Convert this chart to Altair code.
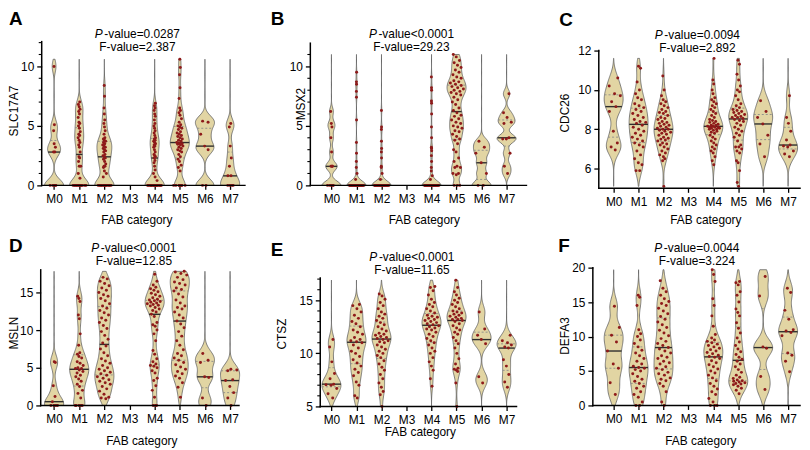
import json
import altair as alt
import pandas as pd

FONT = "Liberation Sans"
FILL = "#e2d5a3"
OUTLINE = "#626262"
DOT = "#8e1a1a"

CATEGORIES = ["M0", "M1", "M2", "M3", "M4", "M5", "M6", "M7"]

# ---------------- data ----------------
slc17a7 = {
    "M0": [10.0, 5.1, 4.6, 3.5, 3.2, 2.8, 2.8, 0, 0, 0, 0, 0],
    "M1": [7.0, 6.8, 6.6, 6.4, 6.2, 6.0, 5.7, 5.3, 5.2, 5.0, 4.8, 4.5, 4.3, 4.2, 4.0, 3.8, 3.6, 3.4, 3.2, 2.8,
           2.4, 2.3, 2.0, 1.6, 1.6, 1.0, 0.6, 0, 0, 0, 0, 0, 0, 0, 0, 0, 0, 0, 0, 0],
    "M2": [8.4, 7.5, 6.5, 6.0, 5.5, 5.2, 4.9, 4.6, 4.3, 4.0, 3.9, 3.8, 3.7, 3.6, 3.5, 3.4, 3.3, 3.2, 3.1, 3.0,
           2.9, 2.8, 2.6, 2.5, 2.4, 2.3, 2.2, 2.0, 1.8, 1.6, 1.6, 1.5, 1.2, 1.0, 0.7,
           0, 0, 0, 0, 0, 0, 0, 0, 0, 0, 0, 0, 0, 0],
    "M3": [],
    "M4": [6.9, 6.7, 6.5, 6.3, 6.0, 5.8, 5.5, 5.2, 5.0, 4.8, 4.6, 4.4, 4.2, 4.0, 3.9, 3.8, 3.7, 3.6, 3.5, 3.4,
           3.3, 3.2, 3.0, 2.8, 2.6, 2.5, 2.4, 2.3, 2.1, 1.9, 1.6, 1.3, 1.0, 0.7, 0.4,
           0, 0, 0, 0, 0, 0, 0, 0, 0, 0, 0, 0, 0, 0, 0, 0, 0, 0, 0, 0],
    "M5": [10.6, 9.9, 9.3, 8.2, 7.3, 6.5, 6.3, 6.1, 5.9, 5.6, 5.3, 5.1, 5.0, 4.9, 4.8, 4.7, 4.5, 4.4, 4.3, 4.2,
           4.1, 4.0, 3.9, 3.8, 3.7, 3.6, 3.55, 3.5, 3.45, 3.4, 3.3, 3.2, 3.1, 3.0, 2.9, 2.8, 2.6, 2.4, 2.2,
           2.0, 1.7, 1.5, 1.2, 0, 0, 0, 0, 0, 0, 0, 0],
    "M6": [5.4, 5.3, 4.3, 3.3, 3.0, 0, 0],
    "M7": [5.2, 4.9, 3.3, 2.3, 1.6, 0.8, 0.8, 0, 0, 0, 0],
}

msx2 = {
    "M0": [6.2, 5.2, 4.9, 4.0, 2.8, 1.6, 1.6, 1.6, 0, 0, 0, 0, 0],
    "M1": [9.5, 8.7, 8.5, 7.9, 7.4, 5.5, 3.6, 2.7, 2.0, 1.5, 1.0, 0.5,
           0, 0, 0, 0, 0, 0, 0, 0, 0, 0, 0, 0, 0, 0, 0, 0, 0, 0, 0, 0, 0, 0, 0, 0, 0, 0, 0, 0, 0, 0],
    "M2": [6.3, 4.9, 4.7, 3.7, 3.1, 2.8, 2.3, 1.6, 1.5, 1.0, 0.5,
           0, 0, 0, 0, 0, 0, 0, 0, 0, 0, 0, 0, 0, 0, 0, 0, 0, 0, 0, 0, 0, 0, 0, 0, 0, 0, 0, 0, 0, 0],
    "M3": [],
    "M4": [9.1, 8.2, 8.0, 7.1, 6.9, 6.0, 4.9, 4.0, 3.2, 3.1, 2.9, 2.5, 2.0, 1.5, 1.2, 0.8, 0.5,
           0, 0, 0, 0, 0, 0, 0, 0, 0, 0, 0, 0, 0, 0, 0, 0, 0, 0, 0, 0, 0, 0, 0, 0, 0, 0, 0, 0, 0, 0],
    "M5": [11.0, 10.8, 10.5, 10.3, 10.1, 9.9, 9.7, 9.5, 9.3, 9.1, 9.0, 8.8, 8.7, 8.6, 8.5, 8.4, 8.3, 8.2,
           8.1, 8.0, 7.9, 7.8, 7.7, 7.6, 7.4, 7.2, 7.0, 6.8, 6.5, 6.3, 6.1, 5.9, 5.8, 5.6, 5.5, 5.3, 5.2,
           5.0, 4.9, 4.8, 4.6, 4.5, 4.3, 4.1, 3.9, 3.8, 3.5, 3.0, 2.8, 2.3, 2.0, 1.6, 1.5, 1.5, 1.0, 1.0,
           0.9, 0, 0, 0],
    "M6": [3.7, 3.2, 2.7, 1.9, 1.0, 0, 0],
    "M7": [7.7, 6.1, 5.7, 5.3, 5.2, 4.0, 3.9, 3.9, 2.7, 1.6, 1.0],
}

cdc26 = {
    "M0": [10.6, 10.2, 9.8, 9.7, 9.4, 9.15, 8.9, 7.9, 7.3, 7.1, 6.95],
    "M1": [11.2, 11.1, 10.4, 10.0, 9.8, 9.6, 9.5, 9.3, 9.2, 9.1, 9.0, 8.9, 8.8, 8.7, 8.6, 8.5, 8.4, 8.35,
           8.3, 8.2, 8.1, 8.0, 7.9, 7.8, 7.7, 7.6, 7.5, 7.4, 7.3, 7.2, 7.1, 6.9, 6.7, 6.5, 6.3, 6.2, 5.9, 5.9],
    "M2": [10.7, 10.0, 9.7, 9.5, 9.4, 9.3, 9.2, 9.1, 9.0, 8.9, 8.85, 8.8, 8.7, 8.6, 8.55, 8.5, 8.4, 8.35,
           8.3, 8.25, 8.2, 8.15, 8.1, 8.05, 8.0, 8.0, 7.95, 7.9, 7.85, 7.8, 7.75, 7.7, 7.6, 7.55, 7.5, 7.45,
           7.4, 7.3, 7.25, 7.2, 7.1, 7.0, 6.9, 6.8, 6.7, 6.6, 6.5, 6.4, 5.1],
    "M3": [],
    "M4": [11.6, 10.5, 10.3, 10.0, 9.8, 9.6, 9.5, 9.4, 9.3, 9.2, 9.1, 9.0, 8.9, 8.8, 8.7, 8.6, 8.5, 8.45,
           8.4, 8.35, 8.3, 8.25, 8.2, 8.2, 8.15, 8.15, 8.1, 8.1, 8.1, 8.05, 8.05, 8.0, 8.0, 7.95, 7.9, 7.85,
           7.8, 7.7, 7.6, 7.5, 7.4, 7.3, 7.2, 7.1, 7.0, 6.9, 6.8, 6.6, 6.4, 6.2],
    "M5": [11.5, 11.3, 10.8, 10.5, 10.2, 10.0, 9.9, 9.7, 9.5, 9.3, 9.2, 9.1, 9.0, 8.95, 8.9, 8.85, 8.8,
           8.75, 8.7, 8.65, 8.6, 8.6, 8.55, 8.5, 8.45, 8.4, 8.3, 8.2, 8.1, 8.0, 7.9, 7.8, 7.7, 7.6, 7.4, 7.2,
           7.1, 7.1, 7.0, 6.9, 6.8, 6.4, 6.3, 5.9, 5.3, 5.1],
    "M6": [9.45, 8.9, 8.6, 8.27, 7.7, 7.25, 6.6],
    "M7": [9.7, 8.6, 8.3, 7.9, 7.45, 7.2, 7.15, 7.1, 6.9, 6.75, 6.6],
}

msln = {
    "M0": [5.8, 5.7, 2.6, 1.2, 0.5, 0, 0, 0, 0],
    "M1": [14.5, 14.2, 13.8, 12.0, 11.5, 9.5, 8.0, 7.0, 6.8, 6.5, 6.3, 5.8, 5.6, 5.3, 5.0, 4.9, 4.9, 4.7,
           4.5, 4.3, 4.0, 3.8, 3.5, 3.2, 2.8, 2.5, 2.0, 1.6, 1.0, 0, 0, 0, 0, 0],
    "M2": [17.0, 16.8, 16.5, 16.2, 15.9, 15.6, 15.3, 15.0, 14.7, 14.5, 14.2, 13.9, 13.5, 13.2, 12.9, 12.6,
           12.3, 12.0, 11.6, 11.3, 11.0, 10.6, 10.2, 9.8, 9.3, 8.8, 8.3, 7.9, 7.5, 7.0, 6.6, 6.2, 5.9, 5.6,
           5.3, 5.0, 4.8, 4.6, 4.4, 4.2, 4.0, 3.8, 3.6, 3.4, 3.2, 3.0, 2.8, 2.5, 2.2, 1.9, 1.5, 1.1, 1.0, 0.9],
    "M3": [],
    "M4": [17.4, 16.5, 16.0, 15.7, 15.5, 15.3, 15.1, 14.9, 14.7, 14.5, 14.3, 14.1, 14.0, 13.9, 13.8, 13.7,
           13.6, 13.5, 13.4, 13.3, 13.2, 13.0, 12.8, 12.6, 12.4, 12.1, 11.8, 11.0, 10.7, 10.5, 10.0, 9.5,
           8.6, 7.3, 6.8, 6.2, 5.8, 5.5, 5.3, 5.2, 5.0, 4.6, 4.3, 3.6, 3.3, 2.6, 2.0, 1.1, 0, 0, 0],
    "M5": [17.8, 17.7, 17.5, 17.3, 17.0, 16.7, 16.4, 16.2, 16.0, 15.6, 15.4, 15.2, 14.8, 14.4, 14.0, 13.6,
           13.2, 13.0, 12.8, 12.4, 12.0, 11.6, 11.2, 10.8, 10.3, 9.8, 9.2, 8.6, 8.0, 7.4, 6.9, 6.6, 6.3, 6.0,
           5.7, 5.4, 5.1, 4.8, 4.5, 4.2, 3.9, 3.6, 3.0, 2.4, 1.1],
    "M6": [6.9, 6.0, 5.7, 3.8, 3.7, 1.0, 0],
    "M7": [4.8, 4.7, 4.6, 3.4, 3.3, 2.5, 1.7, 1.0, 0],
}

ctsz = {
    "M0": [11.3, 10.6, 9.2, 8.1, 7.6, 7.1, 7.05, 7.0, 6.7, 6.2, 5.8],
    "M1": [14.6, 14.5, 14.2, 13.9, 13.6, 13.3, 13.0, 12.8, 12.5, 12.2, 12.0, 11.8, 11.5, 11.3, 11.2, 11.1,
           11.0, 10.8, 10.5, 10.2, 10.0, 9.7, 9.4, 9.1, 8.8, 8.5, 8.2, 7.9, 7.3, 7.0, 6.0, 5.8],
    "M2": [15.6, 15.4, 15.1, 14.8, 14.5, 14.2, 13.9, 13.7, 13.5, 13.3, 13.1, 12.9, 12.7, 12.5, 12.3, 12.1,
           11.9, 11.8, 11.7, 11.6, 11.5, 11.4, 11.3, 11.2, 11.1, 11.0, 10.8, 10.6, 10.4, 10.2, 10.0, 9.8,
           9.6, 9.3, 9.0, 8.7, 8.4, 8.0, 7.6, 7.2, 6.8, 6.4, 6.1, 5.0],
    "M3": [],
    "M4": [16.3, 16.2, 15.9, 15.5, 15.1, 14.8, 14.6, 14.4, 14.2, 14.0, 13.8, 13.6, 13.5, 13.4, 13.3, 13.2,
           13.1, 13.0, 12.9, 12.8, 12.7, 12.6, 12.5, 12.4, 12.3, 12.2, 12.0, 11.8, 11.6, 11.4, 11.2, 11.0,
           10.8, 10.5, 10.2, 10.0, 9.6, 9.2, 8.8, 8.4, 7.6, 6.9],
    "M5": [16.9, 16.2, 15.8, 15.5, 15.2, 15.0, 14.8, 14.6, 14.4, 14.2, 14.0, 13.9, 13.8, 13.7, 13.6, 13.5,
           13.4, 13.3, 13.2, 13.2, 13.1, 13.0, 12.8, 12.6, 12.4, 12.2, 12.0, 11.8, 11.5, 11.2, 10.9, 10.5,
           10.0, 9.5, 9.0, 8.6, 8.5, 8.4, 8.3, 7.2, 5.0],
    "M6": [13.9, 12.3, 11.7, 11.3, 10.9, 7.8, 7.2],
    "M7": [11.7, 11.2, 11.0, 10.8, 10.6, 10.5, 9.4, 8.8, 8.0, 7.3, 6.8],
}

defa3 = {
    "M0": [14.4, 11.3, 10.2, 9.2, 7.9, 6.0, 5.4, 3.3, 1.6],
    "M1": [16.0, 15.7, 14.5, 11.0, 10.4, 10.0, 9.5, 9.0, 8.5, 8.0, 7.6, 7.2, 6.8, 6.4, 6.0, 5.7, 5.5, 5.4,
           5.2, 5.0, 4.6, 4.2, 3.8, 3.5, 3.2, 2.8, 2.5, 2.0, 1.6, 1.2, 0.5, 0, 0],
    "M2": [18.1, 17.0, 16.5, 16.0, 15.5, 15.1, 14.8, 14.5, 14.1, 13.7, 13.3, 12.9, 12.5, 12.1, 11.7, 11.3,
           10.9, 10.5, 10.1, 9.7, 9.3, 9.0, 8.7, 8.4, 8.2, 7.9, 7.6, 7.2, 7.0, 6.8, 6.4, 6.2, 6.0, 5.6, 5.4,
           5.2, 4.8, 4.6, 4.4, 4.0, 3.8, 3.6, 3.2, 2.8, 2.0, 0.5, 0.0],
    "M3": [],
    "M4": [19.7, 19.0, 18.0, 15.5, 14.5, 13.0, 11.5, 10.3, 9.8, 9.5, 9.3, 9.1, 8.9, 8.7, 8.5, 8.3, 8.1, 7.9,
           7.7, 7.5, 7.3, 7.1, 7.0, 6.8, 6.5, 6.2, 5.9, 5.6, 5.3, 5.0, 4.7, 4.4, 4.0, 3.6, 3.2, 2.8, 2.4,
           2.0, 1.6, 1.0, 0.5, 0, 0, 0],
    "M5": [18.0, 17.8, 17.5, 16.5, 16.0, 15.0, 14.0, 13.5, 13.0, 12.0, 11.2, 10.5, 9.8, 9.2, 8.7, 8.2, 7.8,
           7.4, 7.0, 6.7, 6.4, 6.0, 5.6, 5.2, 4.8, 4.4, 4.1, 3.9, 3.7, 3.6, 3.5, 3.4, 3.3, 3.2, 3.1, 3.0,
           2.8, 2.5, 2.2, 1.7],
    "M6": [18.7, 15.9, 8.5, 8.3, 4.2, 2.3],
    "M7": [17.0, 16.4, 13.8, 12.5, 11.0, 10.8, 10.6, 10.1, 7.6, 7.3, 6.4, 4.9],
}

# ---------------- layout per panel (pixels are panel-relative) ----------------
XDOM1 = [-0.532, 7.59]
XDOM2 = [-0.844, 7.833]
XDOM3 = [-0.835, 7.478]

panels_cfg = [
    dict(letter="A", gene="SLC17A7", data=slc17a7, pop="=", pval="0.0287", fval="2.387", bw=0.5,
         w=206, h=145, xdom=XDOM1, ydom=[0, 12.08], yline=[0, 12.08], yticks=[0, 5, 10],
         minor=[1, 2, 3, 4, 6, 7, 8, 9, 11, 12], yoff=1, xend=206,
         lpos=(-32, -32), ytpos=(-27, 70), xtpos=(97, 180), ppos=(97.5, -4, 9)),
    dict(letter="B", gene="MSX2", data=msx2, pop="<", pval="0.0001", fval="29.23", bw=0.35,
         w=219, h=145, xdom=XDOM2, ydom=[0, 12.08], yline=[0, 11.95], yticks=[0, 5, 10],
         minor=[1, 2, 3, 4, 6, 7, 8, 9, 11], yoff=0, xend=218,
         lpos=(-40, -32), ytpos=(-9, 63), xtpos=(115, 180), ppos=(102, -4, 9)),
    dict(letter="C", gene="CDC26", data=cdc26, pop="=", pval="0.0094", fval="2.892", bw=0.4,
         w=209, h=148, xdom=XDOM3, ydom=[5, 12.45], yline=[5, 12], yticks=[6, 8, 10, 12],
         minor=[], yoff=6, xend=209,
         lpos=(-34, -31), ytpos=(-28, 72), xtpos=(114, 180), ppos=(105.5, -3, 10)),
    dict(letter="D", gene="MSLN", data=msln, pop="<", pval="0.0001", fval="12.85", bw=0.9,
         w=206, h=139, xdom=XDOM1, ydom=[0, 18.29], yline=[0, 18.0], yticks=[0, 5, 10, 15],
         minor=[], yoff=0, xend=200,
         lpos=(-32, -31), ytpos=(-27, 66), xtpos=(102, 175), ppos=(94, -16, -3)),
    dict(letter="E", gene="CTSZ", data=ctsz, pop="<", pval="0.0001", fval="11.65", bw=0.6,
         w=219, h=140, xdom=XDOM2, ydom=[5, 18.08], yline=[5, 17.1], yticks=[5, 10, 15],
         minor=[6, 7, 8, 9, 11, 12, 13, 14, 16, 17], yoff=10, xend=208,
         lpos=(-40, -27), ytpos=(-29, 67), xtpos=(111, 166), ppos=(102.5, -7, 6)),
    dict(letter="F", gene="DEFA3", data=defa3, pop="=", pval="0.0044", fval="3.224", bw=1.2,
         w=209, h=139, xdom=XDOM3, ydom=[0, 20], yline=[0, 20], yticks=[0, 5, 10, 15, 20],
         minor=[], yoff=0, xend=209,
         lpos=(-35, -31), ytpos=(-28, 69), xtpos=(109, 175), ppos=(105, -16, -3)),
]

HW = 0.38      # violin half width (category units)
PJ = 0.30      # point jitter half width


def make_df(d):
    rows = []
    for g, vals in d.items():
        idx = CATEGORIES.index(g)
        for v in vals:
            rows.append({"group": g, "idx": idx, "value": v})
    return pd.DataFrame(rows)


ONE = pd.DataFrame({"k": [0]})


def text_layer(txt, x, y, **kw):
    return alt.Chart(ONE).mark_text(text=txt, font=FONT, color="black", **kw).encode(
        x=alt.value(x), y=alt.value(y))


def build_panel(cfg):
    df = make_df(cfg["data"])
    w, h = cfg["w"], cfg["h"]
    lo, hi = cfg["ydom"]
    bw = cfg["bw"]
    yoff = cfg["yoff"]

    def py(v):
        return h * (hi - v) / (hi - lo)

    xs = alt.Scale(domain=cfg["xdom"], nice=False, zero=False)
    ys = alt.Scale(domain=[lo, hi], nice=False, zero=False)

    yaxis = alt.Axis(values=cfg["yticks"], domain=False, grid=False, ticks=True, tickSize=5,
                     tickWidth=1.3, tickColor="black", labels=True, labelFont=FONT, labelFontSize=12,
                     labelColor="black", labelPadding=3, title=None, offset=-yoff,
                     labelFlush=False, labelOverlap=False)
    xaxis = alt.Axis(values=list(range(len(CATEGORIES))),
                     labelExpr=json.dumps(CATEGORIES) + "[datum.value]",
                     domain=False, grid=False, ticks=True, tickSize=4, tickWidth=1.3,
                     tickColor="black", labels=True, labelFont=FONT, labelFontSize=12,
                     labelColor="black", labelPadding=4, labelAngle=0, title=None,
                     labelFlush=False, labelOverlap=False)

    def X(f):
        return alt.X(f, scale=xs, axis=xaxis)

    def Y(f):
        return alt.Y(f, scale=ys, axis=yaxis)

    base = alt.Chart(df)

    violin = base.transform_density(
        "value", groupby=["group", "idx"], bandwidth=bw, steps=120, as_=["value", "density"]
    ).transform_joinaggregate(
        dmax="max(density)", groupby=["group"]
    ).transform_calculate(
        xl=f"datum.idx - {HW} * datum.density / datum.dmax",
        xr=f"datum.idx + {HW} * datum.density / datum.dmax",
    ).mark_area(orient="horizontal", fill=FILL, stroke=OUTLINE, strokeWidth=0.8).encode(
        y=Y("value:Q"),
        x=X("xl:Q"),
        x2="xr:Q",
        detail="group:N",
    )

    def stat_layer(op, color, width, dash):
        kw = dict(color=color, strokeWidth=width)
        if dash:
            kw["strokeDash"] = dash
        return base.transform_joinaggregate(
            s=f"{op}(value)", groupby=["group"]
        ).transform_density(
            "value", groupby=["group", "idx", "s"], bandwidth=bw, steps=120, as_=["value", "density"]
        ).transform_joinaggregate(
            dmax="max(density)", groupby=["group"]
        ).transform_calculate(
            dist="abs(datum.value - datum.s)"
        ).transform_joinaggregate(
            dmin="min(dist)", groupby=["group"]
        ).transform_filter(
            "datum.dist == datum.dmin"
        ).transform_calculate(
            xl=f"datum.idx - {HW} * datum.density / datum.dmax",
            xr=f"datum.idx + {HW} * datum.density / datum.dmax",
        ).mark_rule(**kw).encode(
            y=Y("s:Q"),
            x=X("xl:Q"),
            x2="xr:Q",
        )

    q1 = stat_layer("q1", "#8a8a8a", 0.9, [2, 2])
    q3 = stat_layer("q3", "#8a8a8a", 0.9, [2, 2])
    med = stat_layer("median", "#2e2e2e", 1.4, None)

    points = base.transform_window(
        lo="min(value)", hi="max(value)", cnt="count()", frame=[-3, 3],
        groupby=["group"], sort=[alt.SortField("value")]
    ).transform_window(
        rn="row_number()", groupby=["group"], sort=[alt.SortField("value")]
    ).transform_calculate(
        ld=f"datum.cnt / (datum.hi - datum.lo + {bw})"
    ).transform_joinaggregate(
        ldmax="max(ld)", groupby=["group"]
    ).transform_calculate(
        xj=f"datum.idx + {PJ} * (datum.ld / datum.ldmax) * (2 * ((datum.rn * 0.618034) % 1) - 1)"
    ).mark_circle(size=9, color=DOT, opacity=1).encode(
        x=X("xj:Q"),
        y=Y("value:Q"),
    )

    yline = alt.Chart(ONE).mark_rule(color="black", strokeWidth=1.5, strokeCap="square").encode(
        x=alt.value(yoff), y=alt.value(py(cfg["yline"][1])), y2=alt.value(py(cfg["yline"][0])))
    xline = alt.Chart(ONE).mark_rule(color="black", strokeWidth=1.5, strokeCap="square").encode(
        x=alt.value(yoff), x2=alt.value(cfg["xend"]), y=alt.value(h))

    layers = [violin, q1, q3, med, points, yline, xline]

    if cfg["minor"]:
        minor = alt.Chart(pd.DataFrame({"m": cfg["minor"]})).mark_rule(
            color="black", strokeWidth=1.1).encode(
            y=Y("m:Q"),
            x=alt.value(yoff - 3), x2=alt.value(yoff))
        layers.append(minor)

    lx, ly = cfg["lpos"]
    layers.append(text_layer(cfg["letter"], lx, ly, fontSize=19, fontWeight="bold",
                             align="left", baseline="top"))
    tx, ty = cfg["ytpos"]
    layers.append(text_layer(cfg["gene"], tx, ty, fontSize=12, angle=270,
                             align="center", baseline="middle"))
    fx, fy = cfg["xtpos"]
    layers.append(text_layer("FAB category", fx, fy, fontSize=12, align="center", baseline="middle"))
    cx, yp, yf = cfg["ppos"]
    split = cx - 84.3 / 2 + 8.0
    layers.append(text_layer("P", split - 0.8, yp, fontSize=12, fontStyle="italic",
                             align="right", baseline="alphabetic"))
    layers.append(text_layer("-value" + cfg["pop"] + cfg["pval"], split + 0.8, yp, fontSize=12,
                             align="left", baseline="alphabetic"))
    layers.append(text_layer("F-value=" + cfg["fval"], cx, yf, fontSize=12,
                             align="center", baseline="alphabetic"))

    return alt.layer(*layers).properties(width=w, height=h)


charts = [build_panel(c) for c in panels_cfg]

chart = alt.concat(
    *charts, columns=3, spacing={"row": 80, "column": 66}, bounds="flush"
).properties(
    padding=0, background="white"
).configure_view(stroke=None)

chart.save("out.html", embed_options={"renderer": "svg", "actions": False})
